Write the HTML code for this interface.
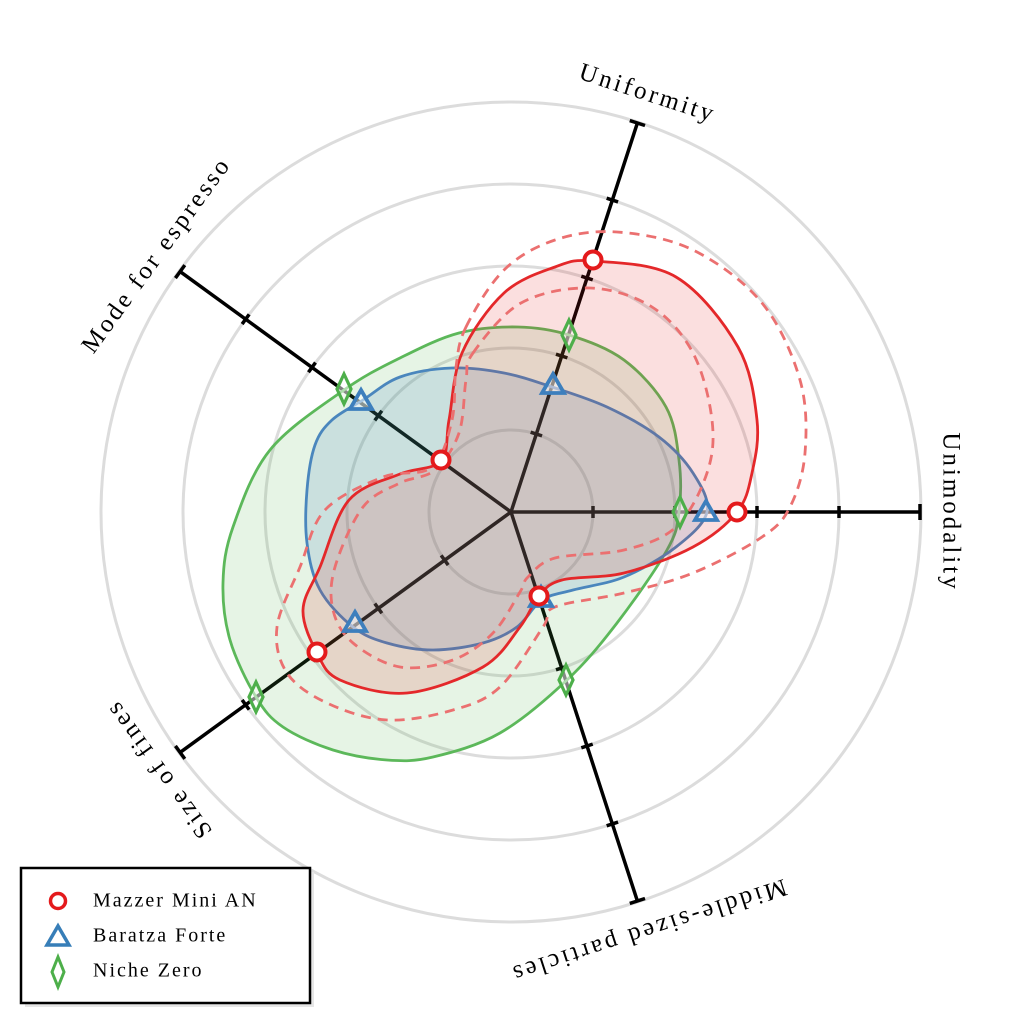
<!DOCTYPE html>
<html><head><meta charset="utf-8"><style>
html,body{margin:0;padding:0;background:#fff;}
svg{display:block;}
text{font-family:"Liberation Serif",serif;}
</style></head><body>
<svg id="s" width="1024" height="1024" viewBox="0 0 1024 1024" xmlns="http://www.w3.org/2000/svg">
<g fill="none" stroke="#dcdcdc" stroke-width="3">
<circle cx="511" cy="512" r="82"/><circle cx="511" cy="512" r="164"/><circle cx="511" cy="512" r="246"/><circle cx="511" cy="512" r="328"/><circle cx="511" cy="512" r="410"/>
</g>
<g id="axes" stroke="#000" stroke-width="3.5"></g>
<g id="curves"></g>
<g id="marks"></g>
<g font-size="25" letter-spacing="3" fill="#000" text-anchor="middle" dominant-baseline="middle">
<text transform="translate(647,95) rotate(18)">Uniformity</text>
<text transform="translate(158,256) rotate(-54)">Mode for espresso</text>
<text transform="translate(949,512) rotate(90)">Unimodality</text>
<text transform="translate(160,768) rotate(-126)">Size of fines</text>
<text transform="translate(648,929) rotate(162)">Middle-sized particles</text>
</g>
<rect x="25" y="872" width="289" height="135" fill="#e6e6e6"/>
<rect x="21" y="868" width="289" height="135" fill="#fff" stroke="#000" stroke-width="2.5"/>
<circle cx="58" cy="901" r="7.5" fill="#fff" stroke="#e41a1c" stroke-width="3.5"/>
<polygon points="58,926 69,945 47,945" fill="#fff" stroke="#377eb8" stroke-width="3.5" stroke-linejoin="miter"/>
<polygon points="58,957 64,972 58,987 52,972" fill="#fff" stroke="#4daf4a" stroke-width="3"/>
<g font-size="20" letter-spacing="2" fill="#000" dominant-baseline="middle">
<text x="93" y="902">Mazzer Mini AN</text>
<text x="93" y="937">Baratza Forte</text>
<text x="93" y="972">Niche Zero</text>
</g>
</svg>
<script>
var NS="http://www.w3.org/2000/svg",cx=511,cy=512;
function el(p,t,a){var e=document.createElementNS(NS,t);for(var k in a)e.setAttribute(k,a[k]);p.appendChild(e);return e;}
var axes=document.getElementById('axes');
[0,72,144,216,288].forEach(function(d){
 var a=d*Math.PI/180,ux=Math.cos(a),uy=-Math.sin(a),px=-uy,py=ux;
 el(axes,'line',{x1:cx,y1:cy,x2:cx+ux*409,y2:cy+uy*409});
 [82,164,246,328,409].forEach(function(r,i){var h=i==4?8:6;
  el(axes,'line',{x1:cx+ux*r+px*h,y1:cy+uy*r+py*h,x2:cx+ux*r-px*h,y2:cy+uy*r-py*h,'stroke-width':3.5});});
});
function cr(P){var n=P.length,d='M'+P[0][0]+','+P[0][1];
 for(var i=0;i<n;i++){var p0=P[(i-1+n)%n],p1=P[i],p2=P[(i+1)%n],p3=P[(i+2)%n];
  d+=' C'+(p1[0]+(p2[0]-p0[0])/6)+','+(p1[1]+(p2[1]-p0[1])/6)+' '+(p2[0]-(p3[0]-p1[0])/6)+','+(p2[1]-(p3[1]-p1[1])/6)+' '+p2[0]+','+p2[1];}
 return d+'Z';}
var green=[[518,327],[569,335],[624,360],[666,407],[679,460],[679,512],[667,550],[617,623],[567,680],[500,733],[433,757],[387,760],[333,750],[283,727],[256,697],[230,640],[223,583],[233,527],[270,450],[344,390],[400,358],[459,333]];
var blue=[[363,400],[400,377],[452,368],[504,373],[552,387],[607,407],[659,437],[693,473],[707,512],[676,547],[624,577],[573,590],[542,600],[517,627],[483,643],[433,650],[387,643],[353,627],[320,590],[307,543],[307,490],[315,445],[332,420]];
var red=[[593,261],[676,277],[738,347],[757,420],[752,473],[737,512],[693,547],[624,573],[562,580],[539,596],[520,627],[483,667],[407,693],[340,680],[317,653],[303,610],[320,567],[349,500],[400,474],[441,461],[449,420],[462,353],[504,293],[555,267]];
var rdo=[[466,327],[504,270],[555,240],[617,232],[693,250],[762,303],[800,380],[805,453],[790,507],[762,537],[693,573],[624,593],[555,607],[543,627],[500,687],[453,710],[387,720],[327,703],[287,673],[277,627],[300,567],[325,510],[383,477],[432,467],[452,420],[456,367]];
var rdi=[[473,353],[521,303],[590,288],[652,307],[693,353],[712,420],[707,473],[676,527],[624,550],[555,558],[528,577],[520,592],[493,633],[453,660],[400,667],[353,643],[333,610],[335,567],[363,507],[400,483],[435,470],[459,433],[466,380]];
var C=document.getElementById('curves');
el(C,'path',{d:cr(green),fill:'rgba(77,175,74,0.14)',stroke:'#5cb85a','stroke-width':2.8});
el(C,'path',{d:cr(blue),fill:'rgba(55,126,184,0.16)',stroke:'#4a86bd','stroke-width':2.8});
el(C,'path',{d:cr(red),fill:'rgba(228,26,28,0.14)',stroke:'#e4282a','stroke-width':2.8});
el(C,'path',{d:cr(rdo),fill:'none',stroke:'#eb7070','stroke-width':2.8,'stroke-dasharray':'10,7'});
el(C,'path',{d:cr(rdi),fill:'none',stroke:'#eb7070','stroke-width':2.8,'stroke-dasharray':'10,7'});
var M=document.getElementById('marks');
[[344,389],[569,335],[680,512],[566,680],[256,697]].forEach(function(p){var x=p[0],y=p[1];
 el(M,'polygon',{points:x+','+(y-15)+' '+(x+7)+','+y+' '+x+','+(y+15)+' '+(x-7)+','+y,fill:'#fff','fill-opacity':0.5,stroke:'#4daf4a','stroke-width':3.2});});
[[361,401],[553,385],[706,512],[541,598],[355,623]].forEach(function(p){var x=p[0],y=p[1];
 el(M,'polygon',{points:x+','+(y-11)+' '+(x+11)+','+(y+8)+' '+(x-11)+','+(y+8),fill:'#fff','fill-opacity':0.5,stroke:'#3d7fbd','stroke-width':3.8});});
[[593,260],[737,512],[539,596],[317,652],[441,460]].forEach(function(p){
 el(M,'circle',{cx:p[0],cy:p[1],r:8.5,fill:'#fff',stroke:'#e41a1c','stroke-width':4});});
</script>
</body></html>
